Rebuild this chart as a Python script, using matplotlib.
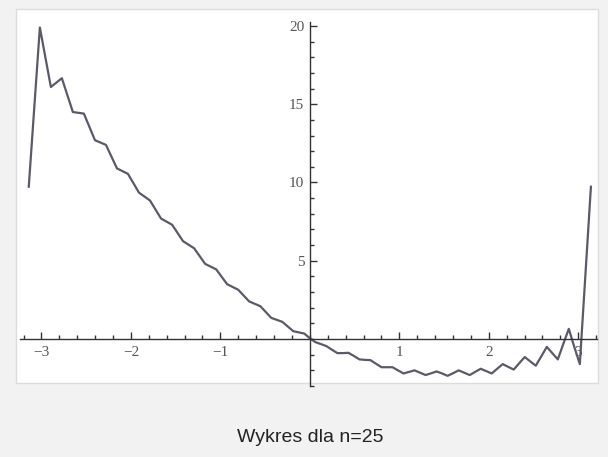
import matplotlib.pyplot as plt
from matplotlib.patches import Rectangle
from matplotlib.ticker import MultipleLocator, FixedLocator

# partial sum (ripple extrema, plus in-between points on the right)
xs = [-3.142, -3.018, -2.895, -2.772, -2.649, -2.526, -2.402, -2.279, -2.156, -2.033,
      -1.910, -1.787, -1.664, -1.540, -1.417, -1.294, -1.170, -1.047, -0.924, -0.801,
      -0.678, -0.554, -0.431, -0.308, -0.185, -0.062, 0.0, 0.062, 0.123, 0.185,
      0.246, 0.308, 0.370, 0.431, 0.493, 0.554, 0.616, 0.678, 0.740, 0.801,
      0.862, 0.924, 0.985, 1.047, 1.108, 1.170, 1.232, 1.294, 1.355, 1.417,
      1.478, 1.540, 1.602, 1.664, 1.725, 1.787, 1.848, 1.910, 1.972, 2.033,
      2.094, 2.156, 2.218, 2.279, 2.340, 2.402, 2.464, 2.526, 2.588, 2.649,
      2.710, 2.772, 2.834, 2.895, 2.956, 3.018, 3.142]
ys = [9.73, 19.9, 16.1, 16.66, 14.5, 14.4, 12.7, 12.4, 10.9, 10.55,
      9.35, 8.85, 7.7, 7.3, 6.25, 5.8, 4.8, 4.45, 3.5, 3.15,
      2.4, 2.1, 1.35, 1.1, 0.5, 0.35, 0.05, -0.2, -0.32, -0.45,
      -0.68, -0.9, -0.9, -0.88, -1.08, -1.3, -1.33, -1.35, -1.58, -1.8,
      -1.8, -1.8, -2.0, -2.2, -2.1, -2.0, -2.15, -2.3, -2.19, -2.07,
      -2.2, -2.35, -2.18, -2.0, -2.15, -2.3, -2.1, -1.9, -2.05, -2.2,
      -1.9, -1.6, -1.78, -1.95, -1.55, -1.15, -1.43, -1.7, -1.1, -0.5,
      -0.9, -1.3, -0.3, 0.65, -0.5, -1.6, 9.73]

x_major = [-3, -2, -1, 1, 2, 3]
y_major = [5, 10, 15, 20]
caption = 'Wykres dla n=25'

W, H = 608, 457
fig = plt.figure(figsize=(W / 100, H / 100), dpi=100)
fig.patch.set_facecolor('#f2f2f2')

# white panel behind the plot
fig.patches.append(Rectangle((16 / W, 1 - 383 / H), (598 - 16) / W, (383 - 9) / H,
                             transform=fig.transFigure, facecolor='white',
                             edgecolor='#dcdcdc', linewidth=1.0, zorder=-10))

ax = fig.add_axes([20 / W, 1 - 386 / H, 577 / W, (386 - 21.7) / H])
ax.set_zorder(1)
ax.patch.set_alpha(0)
ax.set_xlim(-3.24, 3.21)
ax.set_ylim(-3.0, 20.27)

ax.plot(xs, ys, color='#5a5a68', lw=1.6, solid_joinstyle='round')

for s in ['top', 'right']:
    ax.spines[s].set_visible(False)
ax.spines['left'].set_position(('data', 0))
ax.spines['bottom'].set_position(('data', 0))
for s in ['left', 'bottom']:
    ax.spines[s].set_color('#333333')
    ax.spines[s].set_linewidth(1.0)

ax.xaxis.set_major_locator(FixedLocator(x_major))
ax.xaxis.set_minor_locator(MultipleLocator(0.2))
ax.yaxis.set_major_locator(FixedLocator(y_major))
ax.yaxis.set_minor_locator(MultipleLocator(1))
ax.tick_params(which='both', direction='in', colors='#333333', width=1.0,
               labelcolor='#555555', labelsize=11)
ax.tick_params(which='major', length=5)
ax.tick_params(which='minor', length=3)
ax.tick_params(axis='x', pad=5)
ax.tick_params(axis='y', pad=4)
for lab in ax.get_xticklabels() + ax.get_yticklabels():
    lab.set_family('Liberation Serif')

fig.text(310 / W, 1 - 437 / H, caption, ha='center', va='center',
         fontsize=14, family='Liberation Sans', color='#222222')

fig.savefig('out.png', dpi=100, facecolor=fig.get_facecolor())
